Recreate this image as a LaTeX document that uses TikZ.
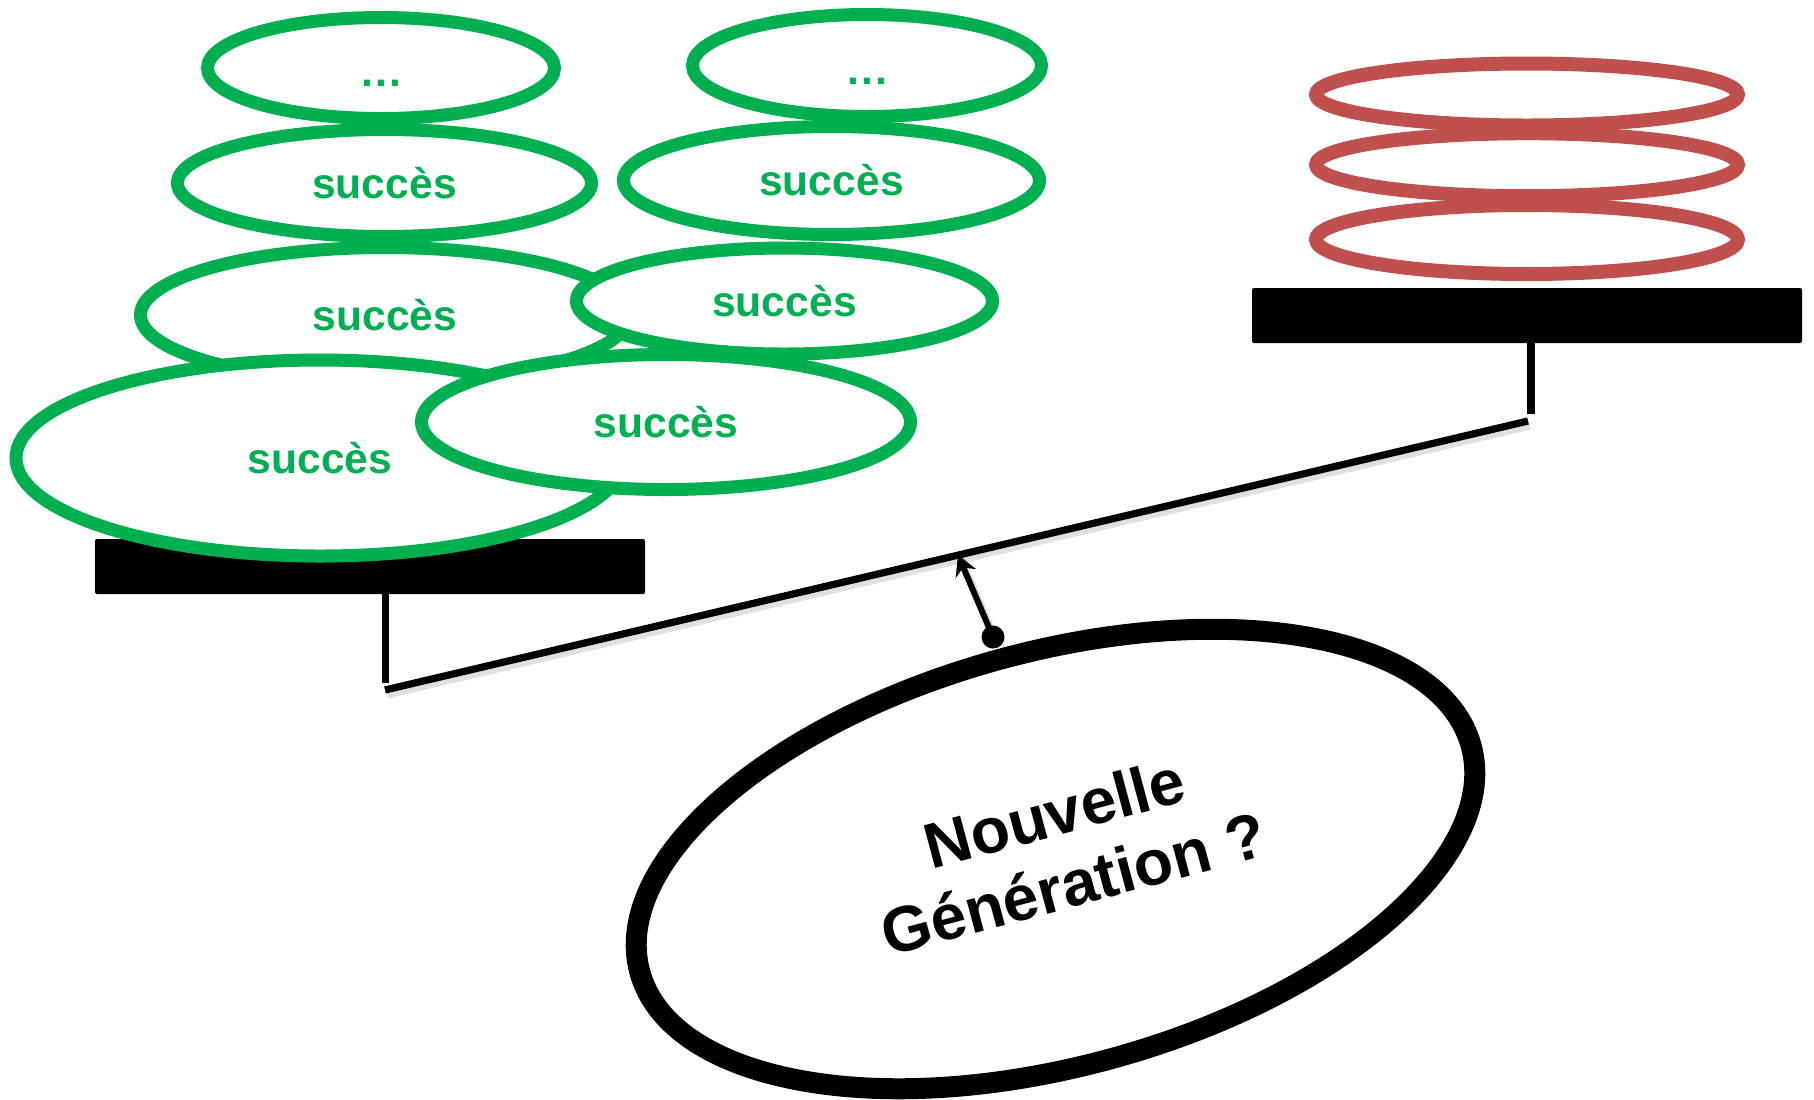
\documentclass[tikz,border=0pt]{standalone}
\usepackage{fontspec}
\setmainfont{Liberation Sans}
\usetikzlibrary{shapes.geometric,arrows.meta}
\definecolor{okgreen}{HTML}{00B050}
\definecolor{okred}{HTML}{C0504D}
\newcommand{\greendots}{\vphantom{É}.\kern1.1pt.\kern1.1pt.}
\begin{document}
\begin{tikzpicture}[x=0.5pt,y=-0.5pt,
  greenell/.style={ellipse,draw=okgreen,fill=white,line width=6.5pt,inner sep=0pt,text=okgreen,font=\bfseries\fontsize{21.3}{25}\selectfont},
  redell/.style={ellipse,draw=okred,fill=white,line width=7pt,inner sep=0pt,minimum width=211pt},
  barbox/.style={rectangle,fill=black,rounded corners=1pt,inner sep=0pt,minimum width=275pt,minimum height=27.5pt},
  rod/.style={line width=3.6pt},
  shadowline/.style={line width=4.5pt,black,opacity=0.12},
]
\useasboundingbox (0,0) rectangle (1814,1099);
\fill[white] (0,0) rectangle (1814,1099);

% bars
\node[barbox] (lbar) at (370,566.5) {};
\node[barbox] (rbar) at (1527,315.5) {};

% green stacks
\node[greenell,minimum width=244.5pt,minimum height=67.5pt] (g5) at (385,315) {succès};
\node[greenell,minimum width=304pt,minimum height=98pt] (g7) at (320,458) {succès};
\node[greenell,minimum width=244.5pt,minimum height=67.5pt] (g8) at (666,422) {succès};
\node[greenell,minimum width=208pt,minimum height=53pt] (g6) at (784.5,301) {succès};
\node[greenell,minimum width=207pt,minimum height=53.5pt] (g3) at (384.5,183) {succès};
\node[greenell,minimum width=208pt,minimum height=54pt] (g4) at (831.5,180.5) {succès};
\node[greenell,minimum width=173.5pt,minimum height=50.5pt] (g1) at (381,68) {\greendots};
\node[greenell,minimum width=174.5pt,minimum height=51pt] (g2) at (867,65.5) {\greendots};

% red stack
\node[redell,minimum height=34.5pt] (r3) at (1527,239.5) {};
\node[redell,minimum height=31.5pt] (r2) at (1527,164.7) {};
\node[redell,minimum height=31pt] (r1) at (1527,94.5) {};

% posts and beam
\coordinate (lpost) at (385.5,683);
\coordinate (rpost) at (1531,414);
\coordinate (lbeam) at (385,690);
\coordinate (rbeam) at (1528,421);
\coordinate (pivot) at (958,555);
\draw[rod] (lbar.south -| lpost) -- (lpost);
\draw[rod] (rbar.south -| rpost) -- (rpost);
\draw[shadowline] ([shift={(2,4)}]lbeam) -- ([shift={(2,4)}]rbeam);
\draw[rod] (lbeam) -- (rbeam);

% big ellipse
\node[ellipse,draw=black,fill=white,line width=10.5pt,inner sep=0pt,
      minimum width=430.8pt,minimum height=207.3pt,rotate=15.2] (ng) at (1055.5,859) {};
\node[rotate=15,align=center,inner sep=0pt,font=\bfseries\fontsize{32}{36.5}\selectfont] (ngtext) at (1064,848) {Nouvelle\\Génération ?};

% pointer
\node[circle,fill=black,inner sep=0pt,minimum size=11.5pt] (dot) at (993,637) {};
\draw[shadowline,line width=3.5pt] ([shift={(3,3)}]dot.center) -- ([shift={(3,3)}]pivot);
\draw[line width=3pt,-{Stealth[length=10pt,width=11pt]}] (dot.center) -- (pivot);
\end{tikzpicture}
\end{document}
